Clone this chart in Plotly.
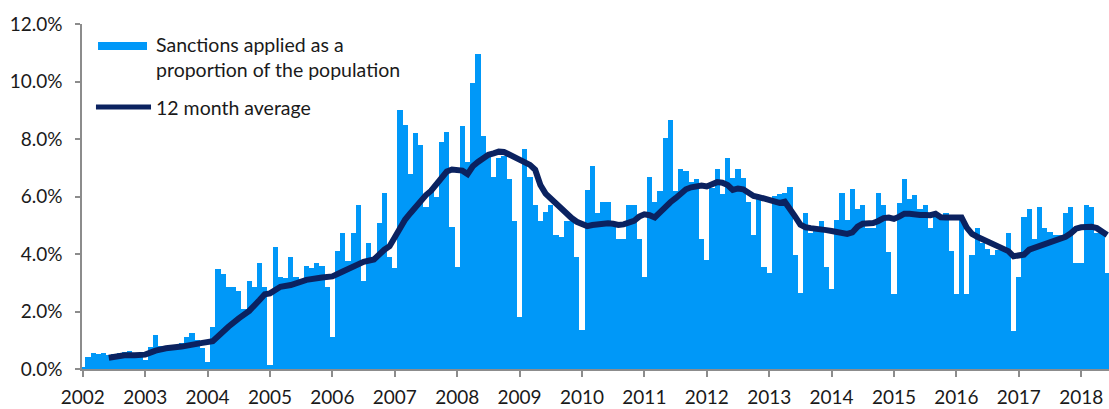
import plotly.graph_objects as go

# ---- data -------------------------------------------------------------
year_labels = [str(y) for y in range(2002, 2019)]
year_tick_months = [12 * k for k in range(len(year_labels))]

# monthly sanction rate (% of population), Jan 2002 .. Jun 2018
sanction_rate = [
    0.08, 0.43, 0.57, 0.52, 0.55, 0.50, 0.52, 0.55, 0.60, 0.64, 0.55, 0.50,   # 2002
    0.31, 0.75, 1.18, 0.80, 0.80, 0.78, 0.85, 0.90, 1.10, 1.24, 1.00, 0.72,   # 2003
    0.24, 1.45, 3.47, 3.30, 2.86, 2.86, 2.70, 2.10, 3.05, 2.86, 3.68, 2.85,   # 2004
    0.15, 4.25, 3.20, 3.15, 3.90, 3.20, 3.05, 3.60, 3.50, 3.67, 3.60, 2.86,   # 2005
    1.12, 4.10, 4.73, 3.75, 4.73, 5.70, 3.05, 4.40, 3.80, 5.08, 6.11, 3.90,   # 2006
    3.50, 9.00, 8.49, 6.80, 8.20, 7.79, 5.65, 6.30, 6.00, 7.90, 8.26, 4.95,   # 2007
    3.56, 8.45, 7.20, 9.94, 10.96, 8.10, 7.40, 6.68, 7.33, 7.40, 6.60, 5.15,  # 2008
    1.82, 7.64, 6.68, 5.70, 5.15, 5.47, 5.70, 4.66, 4.60, 5.15, 5.15, 3.90,   # 2009
    1.36, 6.23, 7.07, 5.41, 5.82, 5.82, 5.10, 4.51, 4.51, 5.70, 5.70, 4.51,   # 2010
    3.21, 6.67, 5.82, 6.20, 8.05, 8.66, 6.20, 6.94, 6.88, 6.50, 6.60, 4.51,   # 2011
    3.80, 6.30, 6.94, 6.10, 7.35, 6.65, 6.94, 6.65, 5.82, 4.66, 5.90, 3.54,   # 2012
    3.35, 6.02, 6.08, 6.13, 6.34, 3.97, 2.65, 5.41, 4.74, 4.90, 5.15, 3.56,   # 2013
    2.80, 5.20, 6.11, 5.20, 6.25, 5.55, 5.70, 4.89, 4.89, 6.11, 5.70, 4.08,   # 2014
    2.60, 5.76, 6.60, 5.90, 6.05, 5.55, 5.70, 4.89, 5.47, 5.30, 5.41, 4.10,   # 2015
    2.60, 5.25, 2.60, 3.97, 4.89, 4.40, 4.16, 3.97, 4.14, 4.14, 4.72, 1.33,   # 2016
    3.21, 5.28, 5.55, 4.52, 5.62, 4.92, 4.77, 4.66, 4.66, 5.41, 5.62, 3.68,   # 2017
    3.68, 5.70, 5.62, 4.72, 4.72, 3.33,                                       # 2018
]
bar_months = list(range(len(sanction_rate)))

# 12 month average (month index, value %)
avg_months = [5, 8, 10, 12, 14, 16, 19, 21, 23, 25, 26, 28, 30, 32, 34, 35, 36,
              38, 40, 43, 46, 48, 50, 52, 53, 54, 56, 57, 58, 59, 60, 61, 62, 63,
              64, 65, 66, 67, 68, 69, 70, 71, 72, 73, 74, 75, 76, 77, 78, 79, 80,
              81, 82, 83, 84, 85, 86, 87, 88, 89, 90, 91, 92, 93, 94, 95, 96, 97,
              98, 99, 100, 101, 102, 103, 104, 105, 106, 107, 108, 109, 110, 111,
              112, 113, 114, 115, 116, 117, 118, 119, 120, 121, 122, 123, 124, 125,
              126, 127, 128, 129, 130, 131, 132, 133, 134, 135, 136, 137, 138, 139,
              140, 141, 142, 143, 144, 145, 146, 147, 148, 149, 150, 151, 152, 153,
              154, 155, 156, 157, 158, 159, 160, 161, 162, 163, 164, 165, 166, 167,
              168, 169, 170, 171, 172, 173, 174, 175, 176, 177, 178, 179, 180, 181,
              182, 183, 184, 185, 186, 187, 188, 189, 190, 191, 192, 193, 194, 195,
              196, 197]
avg_values = [0.39, 0.48, 0.48, 0.50, 0.64, 0.72, 0.78, 0.87, 0.91, 0.97, 1.15, 1.47,
              1.76, 2.02, 2.40, 2.60, 2.63, 2.86, 2.92, 3.10, 3.18, 3.22, 3.39, 3.55,
              3.66, 3.73, 3.81, 4.00, 4.15, 4.27, 4.60, 4.95, 5.20, 5.42, 5.65, 5.85,
              6.05, 6.20, 6.45, 6.70, 6.87, 6.94, 6.94, 6.90, 6.78, 7.05, 7.20, 7.32,
              7.45, 7.50, 7.56, 7.55, 7.45, 7.40, 7.27, 7.20, 7.10, 6.93, 6.40, 6.10,
              5.92, 5.75, 5.60, 5.40, 5.25, 5.12, 5.05, 4.97, 5.01, 5.04, 5.04, 5.07,
              5.05, 5.01, 5.03, 5.09, 5.15, 5.30, 5.38, 5.35, 5.27, 5.45, 5.65, 5.80,
              5.94, 6.10, 6.25, 6.32, 6.36, 6.38, 6.35, 6.40, 6.50, 6.48, 6.40, 6.23,
              6.28, 6.25, 6.13, 6.02, 5.98, 5.93, 5.88, 5.85, 5.78, 5.82, 5.60, 5.30,
              5.02, 4.93, 4.90, 4.86, 4.85, 4.83, 4.80, 4.75, 4.72, 4.70, 4.75, 4.95,
              5.05, 5.06, 5.08, 5.15, 5.25, 5.27, 5.22, 5.30, 5.40, 5.40, 5.36, 5.36,
              5.36, 5.35, 5.40, 5.28, 5.27, 5.27, 5.27, 5.27, 4.92, 4.70, 4.60, 4.52,
              4.42, 4.33, 4.25, 4.18, 4.10, 3.92, 3.95, 3.98, 4.15, 4.22, 4.28, 4.32,
              4.38, 4.45, 4.52, 4.60, 4.72, 4.88, 4.93, 4.95, 4.95, 4.90, 4.80, 4.66]

y_ticks = [0, 2, 4, 6, 8, 10, 12]
y_tick_labels = [f"{v:.1f}%" for v in y_ticks]
bar_name = "Sanctions applied as a proportion of the population"
line_name = "12 month average"

# ---- style ------------------------------------------------------------
BAR_COLOR = "#0098F8"
LINE_COLOR = "#0B2260"
AXIS_COLOR = "#8C8C8C"
TEXT_COLOR = "#1A1A1A"
FONT = "Lato"
TICK_SIZE = 19
LEG_SIZE = 19.5

fig = go.Figure()
fig.add_trace(go.Bar(
    x=bar_months, y=sanction_rate, width=1.0, name=bar_name,
    marker=dict(color=BAR_COLOR, line=dict(width=0)), showlegend=False,
))
fig.add_trace(go.Scatter(
    x=avg_months, y=avg_values, mode="lines", name=line_name,
    line=dict(color=LINE_COLOR, width=6), showlegend=False,
))

fig.update_layout(
    width=1109, height=409,
    margin=dict(l=82, r=0, t=24, b=40, autoexpand=False),
    paper_bgcolor="white", plot_bgcolor="white",
    bargap=0,
    font=dict(family=FONT, size=TICK_SIZE, color=TEXT_COLOR),
)
fig.update_xaxes(
    range=[-0.15, 197.35],
    tickmode="array", tickvals=year_tick_months, ticktext=year_labels,
    showline=True, linecolor=AXIS_COLOR, linewidth=1.5,
    ticks="outside", ticklen=6, tickcolor=AXIS_COLOR, tickwidth=1.5,
    showgrid=False, zeroline=False,
    tickfont=dict(family=FONT, size=TICK_SIZE, color=TEXT_COLOR),
    ticklabelstandoff=4,
)
fig.update_yaxes(
    range=[0, 12],
    tickmode="array", tickvals=y_ticks, ticktext=y_tick_labels,
    showline=True, linecolor=AXIS_COLOR, linewidth=1.5,
    ticks="outside", ticklen=5, tickcolor=AXIS_COLOR, tickwidth=1.5,
    showgrid=False, zeroline=False,
    tickfont=dict(family=FONT, size=TICK_SIZE, color=TEXT_COLOR),
    ticklabelstandoff=9,
)

# legend drawn inside the plot, top-left
fig.add_shape(type="rect", xref="paper", yref="paper",
              x0=0.0156, x1=0.0633, y0=0.9246, y1=0.9478,
              fillcolor=BAR_COLOR, line=dict(width=0))
fig.add_shape(type="line", xref="paper", yref="paper",
              x0=0.0136, x1=0.0672, y0=0.7594, y1=0.7594,
              line=dict(color=LINE_COLOR, width=5))
fig.add_annotation(xref="paper", yref="paper", x=0.0701, y=(369 - 44) / 345,
                   xanchor="left", yanchor="middle", showarrow=False,
                   text="Sanctions applied as a", font=dict(size=LEG_SIZE))
fig.add_annotation(xref="paper", yref="paper", x=0.0701, y=(369 - 69) / 345,
                   xanchor="left", yanchor="middle", showarrow=False,
                   text="proportion of the population", font=dict(size=LEG_SIZE))
fig.add_annotation(xref="paper", yref="paper", x=0.0701, y=0.7594,
                   xanchor="left", yanchor="middle", showarrow=False,
                   text=line_name, font=dict(size=LEG_SIZE))

fig.write_html(
    "out.html",
    config={"displayModeBar": False},
    post_script="document.body.style.margin='0';document.body.style.overflow='hidden';",
)
